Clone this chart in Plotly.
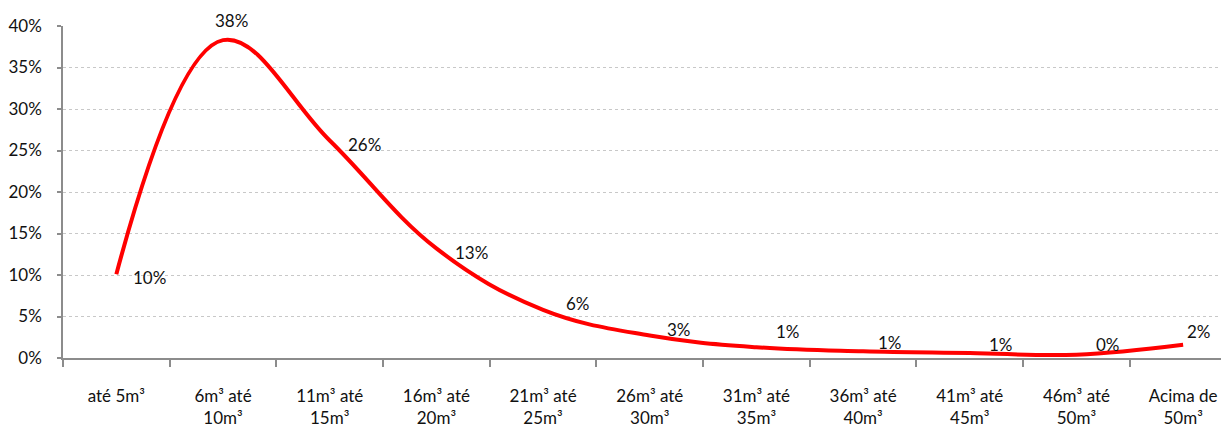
import plotly.graph_objects as go

categories = ["até 5m³", "6m³ até<br>10m³", "11m³ até<br>15m³", "16m³ até<br>20m³",
              "21m³ até<br>25m³", "26m³ até<br>30m³", "31m³ até<br>35m³", "36m³ até<br>40m³",
              "41m³ até<br>45m³", "46m³ até<br>50m³", "Acima de<br>50m³"]
values = [0.101, 0.383, 0.262, 0.132, 0.058, 0.027, 0.013, 0.008, 0.006, 0.004, 0.016]
labels = ["10%", "38%", "26%", "13%", "6%", "3%", "1%", "1%", "1%", "0%", "2%"]
y_ticks = [0, 0.05, 0.10, 0.15, 0.20, 0.25, 0.30, 0.35, 0.40]

# label offsets (pixels) from each point: right, up
label_dx = [33, 8, 35, 35, 35, 29, 32, 27, 31, 32, 16]
label_dy = [-3, 20, -4, -4, 6, 6, 16, 9, 9, 10, 13]

FONT = "Lato"

fig = go.Figure()
fig.add_trace(go.Scatter(
    x=categories, y=values,
    mode="lines",
    line=dict(color="#FF0000", width=4, shape="spline", smoothing=1.1),
    hoverinfo="skip", showlegend=False,
))

for i, (c, v, t) in enumerate(zip(categories, values, labels)):
    fig.add_annotation(
        x=c, y=v, xref="x", yref="y", text=t, showarrow=False,
        xanchor="center", yanchor="middle",
        xshift=label_dx[i], yshift=label_dy[i],
        font=dict(family=FONT, size=17, color="#111111"),
    )

fig.update_layout(
    width=1221, height=420,
    margin=dict(l=55, r=0, t=18, b=70),
    paper_bgcolor="white", plot_bgcolor="white",
    font=dict(family=FONT, size=17, color="#111111"),
    xaxis=dict(
        type="category", categoryorder="array", categoryarray=categories,
        range=[-0.5, 10.43], showgrid=False, zeroline=False,
        showline=True, linecolor="#8c8c8c", linewidth=1.5,
        ticks="outside", ticklen=7, tickcolor="#8c8c8c", tickwidth=1.5,
        ticklabelstandoff=22, tickangle=0, tickson="boundaries",
    ),
    yaxis=dict(
        range=[0, 0.40], tickvals=y_ticks, tickformat=".0%",
        showgrid=True, gridcolor="#c8c8c8", griddash="dot", gridwidth=1,
        zeroline=False, showline=True, linecolor="#8c8c8c", linewidth=1.5,
        ticks="outside", ticklen=4, tickcolor="#8c8c8c", tickwidth=1.5,
        ticklabelstandoff=12,
    ),
)

fig.write_html("out.html")
